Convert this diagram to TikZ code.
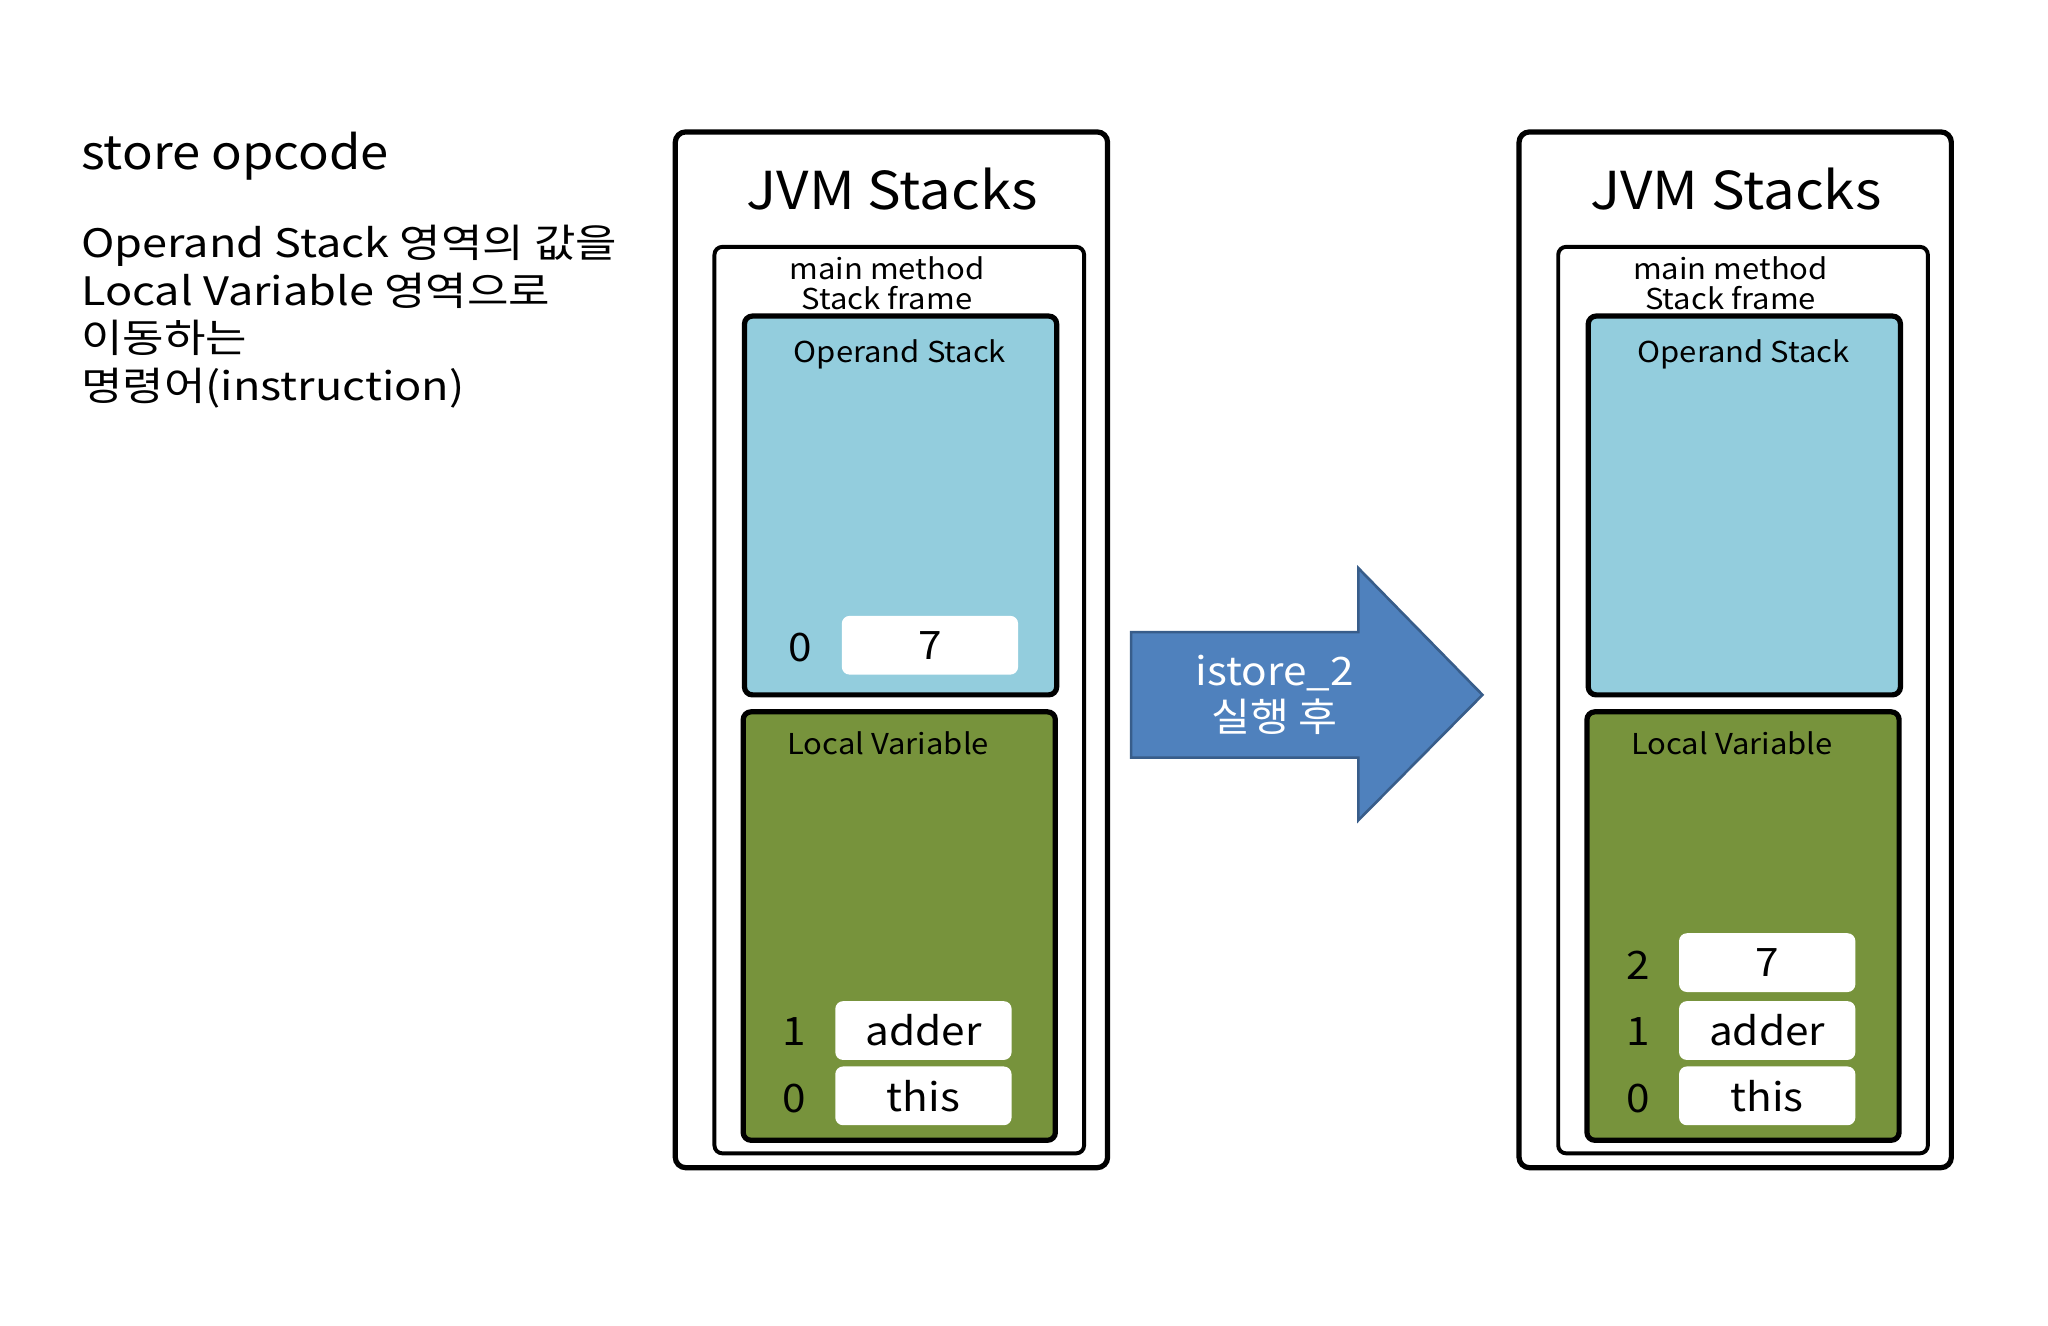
\documentclass[tikz,border=0pt]{standalone}
\usepackage{fontspec}
\setmainfont{Noto Sans CJK KR}[FakeStretch=1.08]
\newfontfamily\descfont{Noto Sans CJK KR}[FakeStretch=1.15]
\begin{document}
\begin{tikzpicture}[x=1pt,y=-1pt,
  outer/.style={draw=black,line width=4pt,rounded corners=8pt,fill=white},
  frame/.style={draw=black,line width=3pt,rounded corners=6pt,fill=white},
  ops/.style={draw=black,line width=4pt,rounded corners=6pt,fill={rgb,255:red,147;green,205;blue,221}},
  lvs/.style={draw=black,line width=4pt,rounded corners=6pt,fill={rgb,255:red,119;green,147;blue,60}},
  val/.style={fill=white,rounded corners=6pt,minimum width=135pt,minimum height=45pt,inner sep=0pt,font=\fontsize{30}{30}\selectfont},
  idx/.style={font=\fontsize{30}{30}\selectfont,inner sep=0pt},
  small/.style={font=\fontsize{22}{22}\selectfont,inner sep=0pt}]
\useasboundingbox (0,0) rectangle (1568,1015);
\node[anchor=base west,inner sep=0pt,font=\fontsize{36}{36}\selectfont] (title) at (62,130) {store opcode};
\node[anchor=north west,inner sep=0pt,align=left,font=\descfont\fontsize{30}{36.5}\selectfont] (desc) at (62,172)
 {Operand Stack 영역의 값을\\Local Variable 영역으로\\이동하는\\명령어(instruction)};
\foreach \dx/\n in {0/L,646/R}{
\begin{scope}[xshift=\dx]
\draw[outer] (517,101) rectangle (848,894);
\node[font=\fontsize{40}{40}\selectfont,inner sep=0pt] (jvm\n) at (683,145) {JVM Stacks};
\draw[frame] (547,189) rectangle (830,883);
\node[small,align=center] (mm\n) at (679,217) {main method\\[1pt]Stack frame};
\draw[ops] (570,242) rectangle (809,532);
\node[small] (os\n) at (689,271) {Operand Stack};
\draw[lvs] (569,545) rectangle (808,873);
\node[small] (lv\n) at (680,569) {Local Variable};
\node[val] (adder\n) at (707,789) {adder};
\node[val] (this\n) at (707,839) {this};
\node[idx] (i1\n) at (608,790) {1};
\node[idx] (i0\n) at (608,841) {0};
\end{scope}}
\node[val] (v7L) at (712,494) {7};
\node[idx] (o0L) at (613,496) {0};
\node[val] (v7R) at (1353,737) {7};
\node[idx] (i2R) at (1254,739) {2};
\draw[line width=2pt,draw={rgb,255:red,56;green,93;blue,138},fill={rgb,255:red,79;green,129;blue,189}]
 (866,484) -- (1040,484) -- (1040,435) -- (1135,532) -- (1040,628) -- (1040,580) -- (866,580) -- cycle;
\node[text=white,align=center,font=\fontsize{30}{35}\selectfont,inner sep=0pt] (arr) at (976,532) {istore\_2\\실행 후};
\end{tikzpicture}
\end{document}
